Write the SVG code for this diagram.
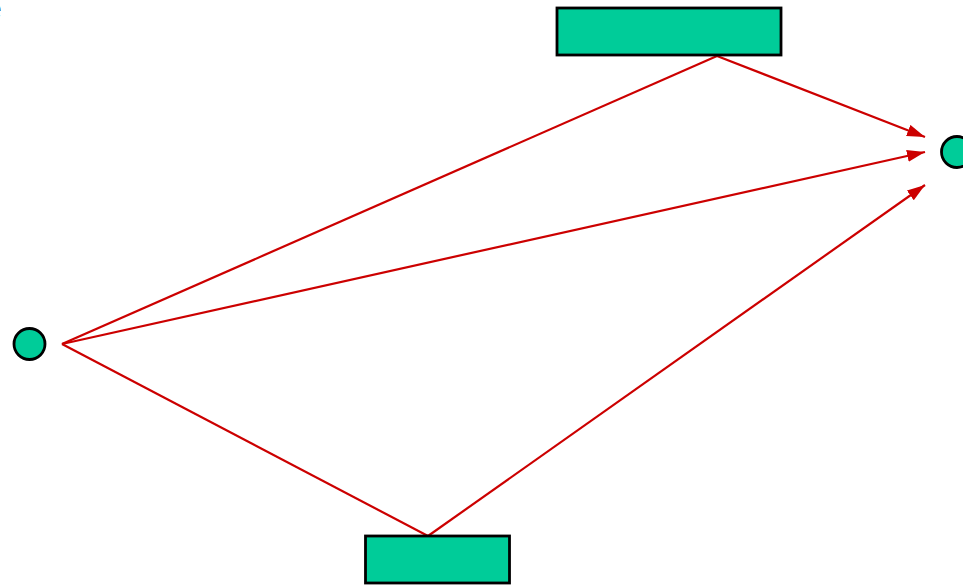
<svg xmlns="http://www.w3.org/2000/svg" width="963" height="585" viewBox="0 0 963 585">
<style>
.node{fill:#00cc99;stroke:#000;stroke-width:2.8}
.edge{stroke:#cc0000;stroke-width:2.2;fill:none}
</style>
<defs>
<marker id="ah" viewBox="0 0 18 12" refX="18" refY="6" markerWidth="18" markerHeight="12" markerUnits="userSpaceOnUse" orient="auto">
<path d="M0,0 L18,6 L0,12 Z" fill="#cc0000"/>
</marker>
</defs>
<rect width="963" height="585" fill="#fff"/>
<text x="-15" y="19" font-family="Liberation Sans, Arial, sans-serif" font-size="30" fill="#000">e</text>
<g id="connectors">
<line class="edge" x1="62" y1="344" x2="717" y2="56"/>
<line class="edge" x1="717" y1="56" x2="925" y2="137" marker-end="url(#ah)"/>
<line class="edge" x1="62" y1="344" x2="925" y2="152" marker-end="url(#ah)"/>
<line class="edge" x1="62" y1="344" x2="428" y2="536"/>
<line class="edge" x1="428" y1="536" x2="925" y2="185" marker-end="url(#ah)"/>
</g>
<g id="top-rect"><rect class="node" x="557" y="8" width="224" height="47"/></g>
<g id="bottom-rect"><rect class="node" x="365.5" y="536" width="144" height="47"/></g>
<g id="left-circle"><circle class="node" cx="29.5" cy="344" r="15.5"/></g>
<g id="right-circle"><circle class="node" cx="957" cy="152" r="15.5"/></g>
</svg>
